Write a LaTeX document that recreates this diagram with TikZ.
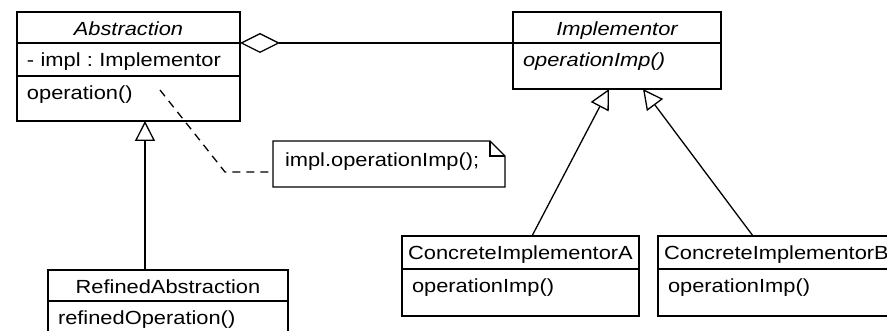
\documentclass[tikz,border=0pt]{standalone}
\usepackage{fontspec}
\setmainfont{Liberation Sans}[FakeStretch=1.15]
\usetikzlibrary{arrows.meta}
\usetikzlibrary{positioning}

\begin{document}
\begin{tikzpicture}[x=1pt,y=-1pt,line width=1.3pt,
  every node/.style={font=\fontsize{19pt}{22pt}\selectfont\frenchspacing,inner ysep=4pt,outer sep=0pt,text height=20pt,anchor=north west},
  head/.style={draw,inner xsep=2pt},
  body/.style={draw,inner xsep=10pt,align=left},
  inherit/.style={-{Triangle[fill=white,length=20pt,width=20pt]}},
  agg/.style={{Diamond[fill=white,length=40pt,width=20pt]}-}]
  \path[use as bounding box,fill=white] (0,0) rectangle (887,331);

  \node[head,minimum width=223pt,text depth=3pt] (abs) at (17,12) {\itshape Abstraction};
  \node[body,text width=203pt,text depth=5pt,below=0pt of abs] (abs-attr) {- impl : Implementor};
  \node[body,text width=203pt,text depth=17pt,below=0pt of abs-attr] (abs-ops) {operation()};

  \node[head,minimum width=208pt,text depth=3pt] (imp) at (513,12) {\itshape Implementor};
  \node[body,text width=188pt,text depth=18pt,below=0pt of imp] (imp-ops) {\itshape operationImp()};

  \node[head,minimum width=240pt,text depth=3pt] (ra) at (48,270) {RefinedAbstraction};
  \node[body,text width=220pt,text depth=22pt,below=0pt of ra] (ra-ops) {refinedOperation()};

  \node[head,minimum width=237pt,text depth=5pt] (cia) at (402,236) {ConcreteImplementorA};
  \node[body,text width=217pt,text depth=19pt,below=0pt of cia] (cia-ops) {operationImp()};

  \node[head,minimum width=237pt,text depth=5pt] (cib) at (658,236) {ConcreteImplementorB};
  \node[body,text width=217pt,text depth=19pt,below=0pt of cib] (cib-ops) {operationImp()};

  \node[inner xsep=12pt,text height=22pt,text depth=16pt,text width=208pt,align=left] (note) at (273,141) {impl.operationImp();};
  \draw (note.south west) -- (note.north west) -- ([xshift=-15pt]note.north east) -- ([yshift=-15pt]note.north east) -- (note.south east) -- cycle;
  \draw ([xshift=-15pt]note.north east) |- ([yshift=-15pt]note.north east);

  \coordinate (link) at (160,90);
  \coordinate (bend) at (225,172);
  \coordinate (ra-top) at (145,270);

  \draw[agg] (abs.south east) -- (imp.south west);
  \draw[inherit] (ra-top) -- (ra-top |- abs-ops.south);
  \draw[inherit] ([xshift=11.5pt]cia.north) -- ([xshift=-8pt]imp-ops.south);
  \draw[inherit] ([xshift=-23.5pt]cib.north) -- ([xshift=26pt]imp-ops.south);
  \draw[dash pattern=on 8pt off 6pt] (link) -- (bend) -- (bend -| note.west);
\end{tikzpicture}
\end{document}
